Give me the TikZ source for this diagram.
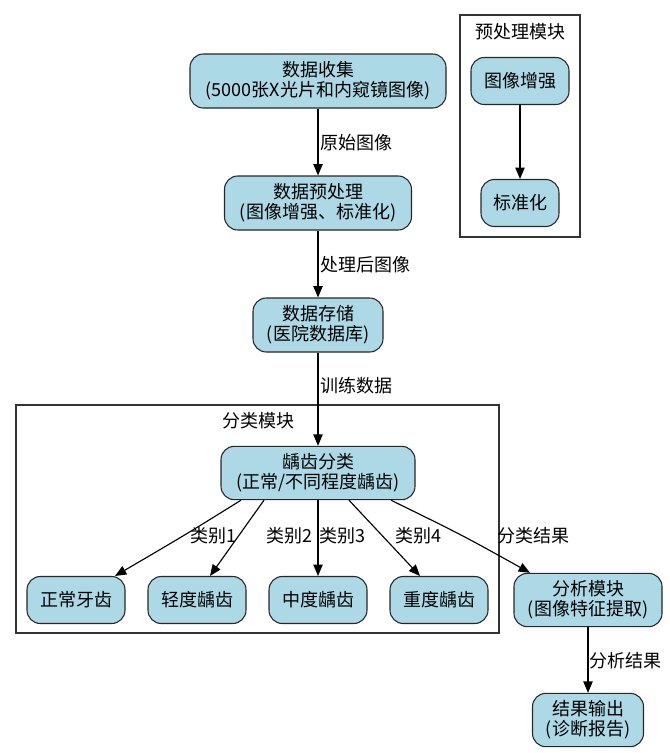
\documentclass[tikz,border=0pt]{standalone}
\usepackage{fontspec}
\newfontfamily\cjk{Noto Sans CJK SC}
\usetikzlibrary{arrows.meta}
\definecolor{lightblue}{HTML}{ADD8E6}
\begin{document}
\begin{tikzpicture}[x=0.75pt,y=-0.75pt,
  every node/.style={font=\cjk\fontsize{13.5pt}{15pt}\selectfont},
  box/.style={draw=black!85, fill=lightblue, rounded corners=10pt, align=center, inner sep=0pt, line width=0.8pt},
  lbl/.style={inner sep=0pt},
  arr/.style={-{Triangle[length=8.5pt,width=7pt]}, line width=0.85pt, black},
  frame/.style={draw=black!80, line width=0.85pt}]
\useasboundingbox (0,0) rectangle (669,753);
% clusters
\draw[frame] (460,15) rectangle (580,237);
\node[lbl] (prelbl) at (520,32) {预处理模块};
\draw[frame] (16,405) rectangle (499,633);
\node[lbl] (clslbl) at (258,421) {分类模块};
% nodes
\node[box, minimum width=192pt, minimum height=40.5pt] (collect) at (318,81) {数据收集\\(5000张X光片和内窥镜图像)};
\node[box, minimum width=140.25pt, minimum height=40.5pt] (pre) at (318,203) {数据预处理\\(图像增强、标准化)};
\node[box, minimum width=97.5pt, minimum height=40.5pt] (store) at (318,325) {数据存储\\(医院数据库)};
\node[box, minimum width=145.5pt, minimum height=40pt] (cls) at (318,473) {龋齿分类\\(正常/不同程度龋齿)};
\node[box, minimum width=73.5pt, minimum height=35.25pt] (normal) at (76,600) {正常牙齿};
\node[box, minimum width=73.5pt, minimum height=35.25pt] (light) at (197,600) {轻度龋齿};
\node[box, minimum width=73.5pt, minimum height=35.25pt] (mid) at (318,600) {中度龋齿};
\node[box, minimum width=73.5pt, minimum height=35.25pt] (heavy) at (439,600) {重度龋齿};
\node[box, minimum width=111pt, minimum height=40pt] (ana) at (588,600) {分析模块\\(图像特征提取)};
\node[box, minimum width=83.25pt, minimum height=40pt] (res) at (588,720) {结果输出\\(诊断报告)};
\node[box, minimum width=73.5pt, minimum height=35.25pt] (enh) at (520,81) {图像增强};
\node[box, minimum width=58.5pt, minimum height=35.25pt] (std) at (520,203) {标准化};
% edges
\draw[arr] (collect) -- (pre);
\node[lbl, anchor=west] (l1) at (320,143) {原始图像};
\draw[arr] (pre) -- (store);
\node[lbl, anchor=west] (l2) at (320,265) {处理后图像};
\draw[arr] (store) -- (cls);
\node[lbl, anchor=west] (l3) at (320,386) {训练数据};
\draw[arr] ([xshift=-57.75pt]cls.south) .. controls (185,535) .. ([xshift=29.25pt]normal.north);
\node[lbl] (c1) at (213,536) {类别1};
\draw[arr] ([xshift=-40.5pt]cls.south) -- ([xshift=9.75pt]light.north);
\node[lbl] (c2) at (289,536) {类别2};
\draw[arr] (cls) -- (mid);
\node[lbl] (c3) at (342,536) {类别3};
\draw[arr] ([xshift=23.25pt]cls.south) -- ([xshift=-14.25pt]heavy.north);
\node[lbl] (c4) at (418,536) {类别4};
\draw[arr] ([xshift=54.75pt]cls.south) .. controls (462,535) .. ([xshift=-43.5pt]ana.north);
\node[lbl] (c5) at (533,536) {分类结果};
\draw[arr] (ana) -- (res);
\node[lbl, anchor=west] (l4) at (589,661) {分析结果};
\draw[arr] (enh) -- (std);
\end{tikzpicture}
\end{document}
